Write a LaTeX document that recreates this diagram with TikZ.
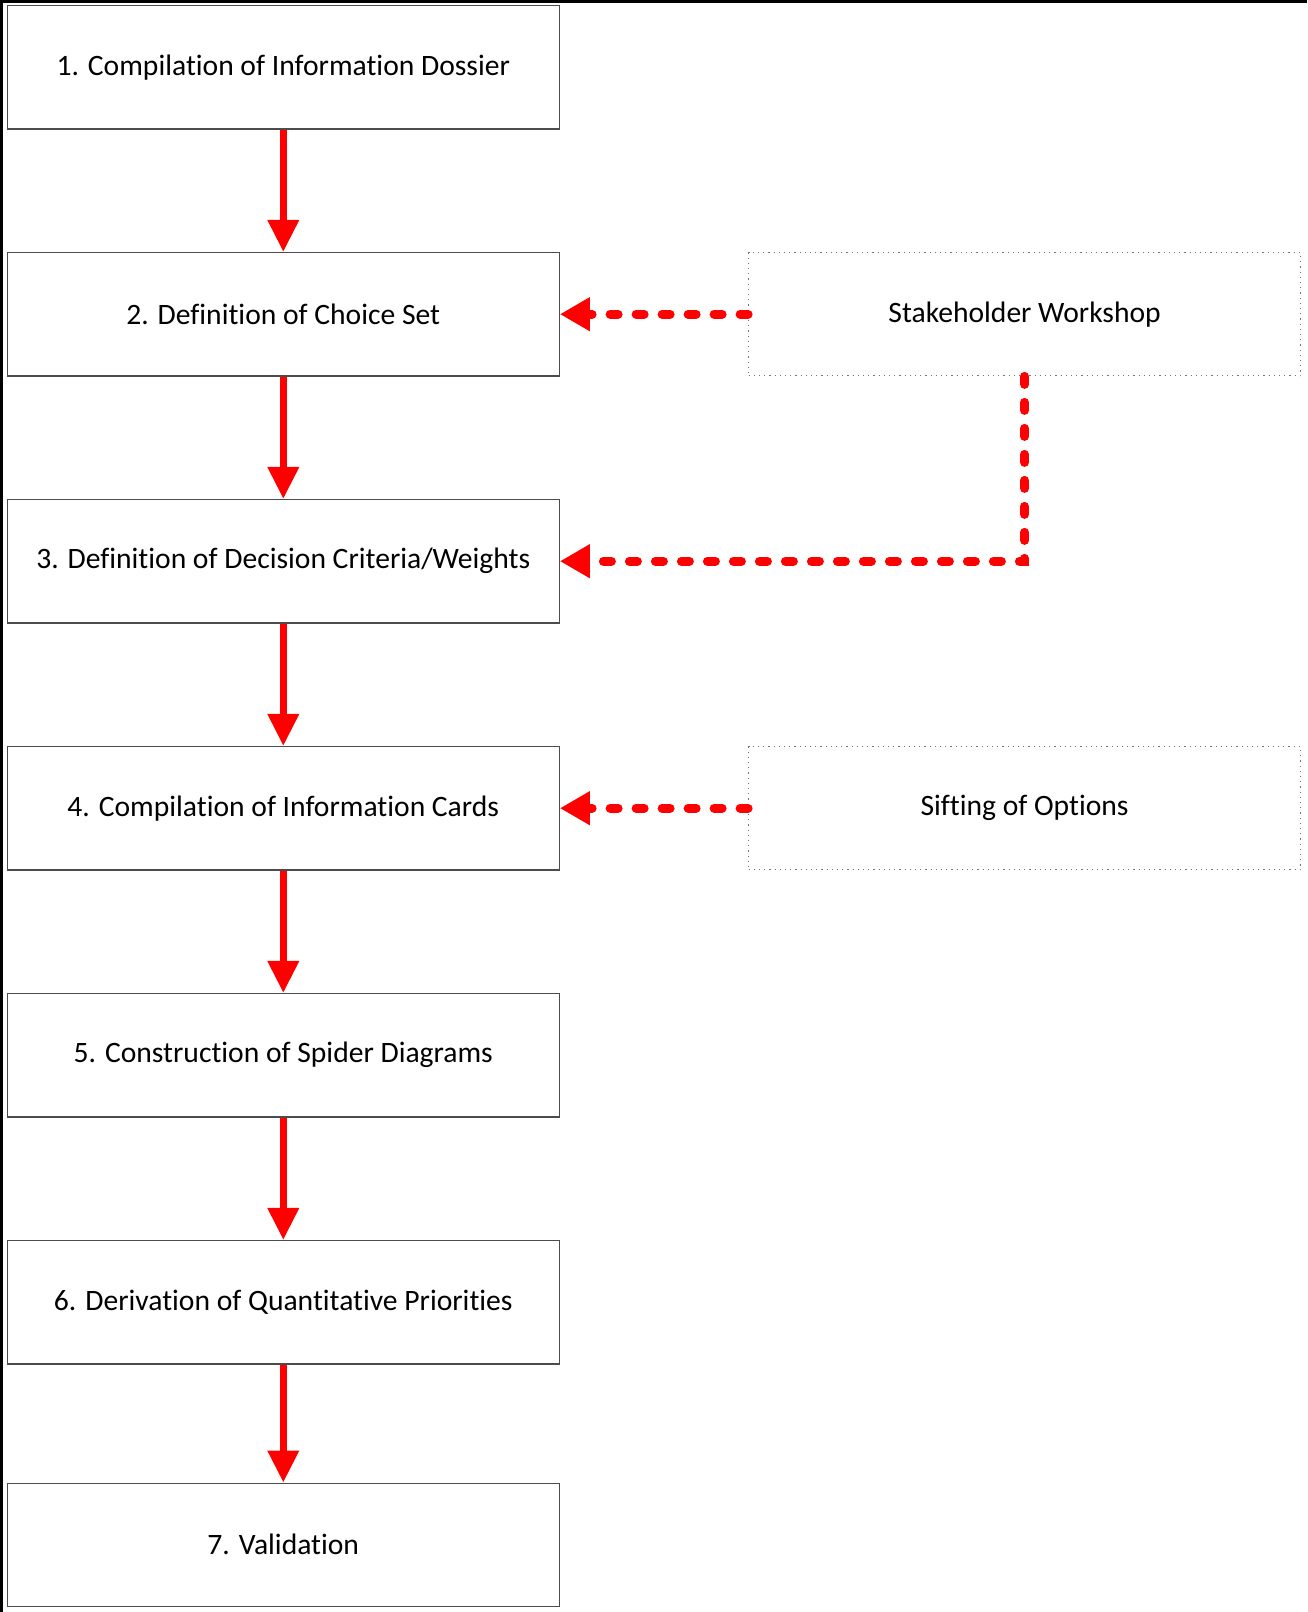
\documentclass[tikz,border=0pt]{standalone}
\usepackage{fontspec}
\setmainfont{Carlito}[Ligatures=NoCommon]
\usetikzlibrary{positioning, arrows.meta}

\tikzset{
  stagebox/.style={draw=black!70, line width=0.6pt, minimum width=276pt, minimum height=61.7pt, inner sep=0pt, font=\fontsize{14.8}{17}\selectfont},
  inputbox/.style={stagebox, draw=black!55, dotted, line width=0.5pt},
  flow/.style={red, line width=3.5pt, -{Triangle[length=16pt,width=15pt]}},
  feed/.style={red, line width=4.5pt, line cap=round, dash pattern=on 4pt off 9pt, -{Triangle[length=15pt,width=16pt]}}
}

\begin{document}
\begin{tikzpicture}[node distance=61.2pt]
\useasboundingbox (0,0) rectangle (653.5pt,-806pt);
% frame lines on top and left
\draw[line width=1.4pt] (0.7pt,-806pt) -- (0.7pt,-0.6pt) -- (653.5pt,-0.6pt);

% the seven stages
\node[stagebox] (s1) at (141.65pt,-33.6pt) {1. Compilation of Information Dossier};
\node[stagebox, below=of s1] (s2) {2. Definition of Choice Set};
\node[stagebox, below=of s2] (s3) {3. Definition of Decision Criteria/Weights};
\node[stagebox, below=of s3] (s4) {4. Compilation of Information Cards};
\node[stagebox, below=of s4] (s5) {5. Construction of Spider Diagrams};
\node[stagebox, below=of s5] (s6) {6. Derivation of Quantitative Priorities};
\node[stagebox, below=59pt of s6] (s7) {7. Validation};

% the inputs on the right
\node[inputbox, right=94.1pt of s2] (work) {Stakeholder Workshop};
\node[inputbox, right=94.1pt of s4] (sift) {Sifting of Options};

% main flow
\foreach \a/\b in {s1/s2, s2/s3, s3/s4, s4/s5, s5/s6, s6/s7}
  \draw[flow] (\a) -- (\b);

% dashed feeds
\draw[feed] (work.west) -- (s2.east);
\draw[feed] (work.south) |- (s3.east);
\draw[feed] (sift.west) -- (s4.east);
\end{tikzpicture}
\end{document}
